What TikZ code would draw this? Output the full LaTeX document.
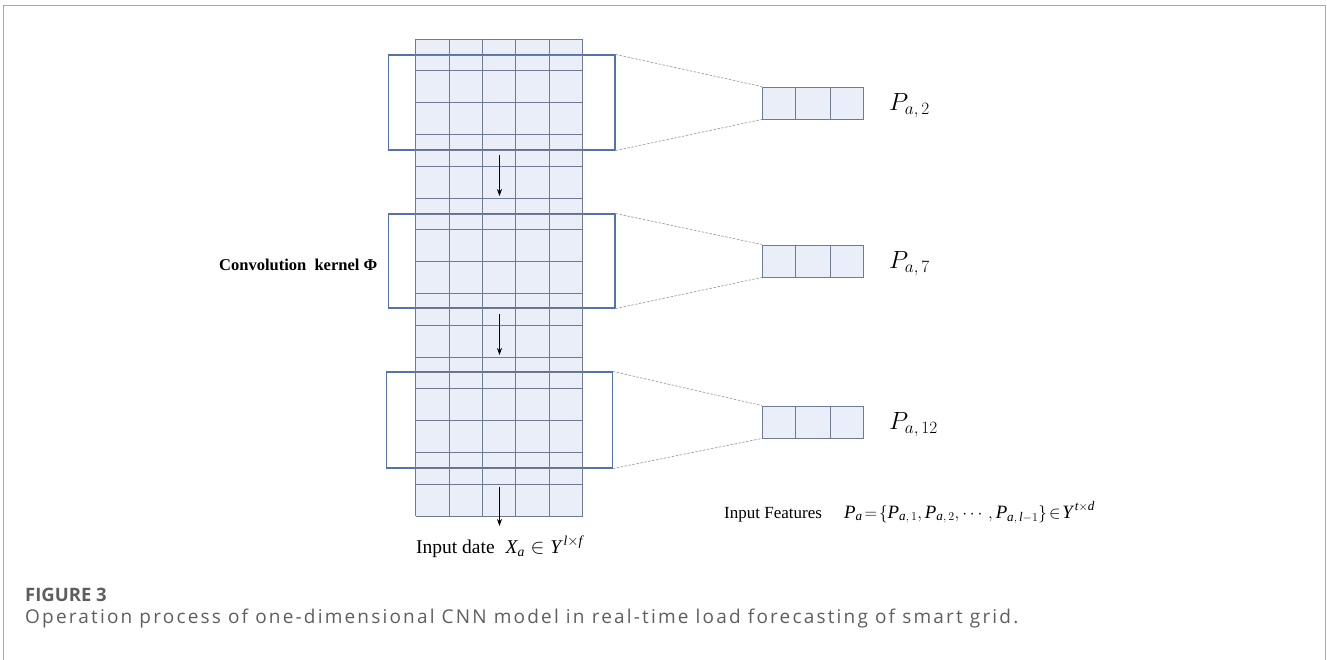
\documentclass[tikz,border=0pt]{standalone}
\usepackage{amsmath}
\usepackage{fontspec}
\setmainfont{Liberation Serif}
\newfontfamily\capfont[LetterSpace=11.5]{Open Sans}
\newfontfamily\capheadfont{Open Sans}
\usetikzlibrary{arrows.meta}
\newcommand\ti[1]{\textit{#1}}
\definecolor{cellfill}{HTML}{E9EEF9}
\definecolor{cellline}{HTML}{6F7B92}
\definecolor{kernelblue}{HTML}{5572AE}
\definecolor{framegray}{HTML}{A8A8A8}
\definecolor{capgray}{HTML}{5E5E5E}
\tikzset{
  cellbox/.style={fill=cellfill, draw=cellline, line width=0.9pt},
  gridline/.style={draw=cellline, line width=0.9pt},
  kernelbox/.style={draw=kernelblue, line width=1.1pt},
  link/.style={draw=gray!75, dashed, dash pattern=on 2.5pt off 1.5pt, line width=0.7pt},
  shift arrow/.style={-{Stealth[length=7pt,width=5pt]}, line width=0.7pt, black},
  plabel/.style={anchor=base west, inner sep=0pt, font=\fontsize{26.5}{28}\selectfont},
  txt/.style={anchor=base west, inner sep=0pt},
}
\begin{document}
\begin{tikzpicture}[x=1pt,y=-1pt]
\useasboundingbox (0,0) rectangle (1327,659);
% open frame
\draw[framegray, line width=1.3pt] (3.3,665) -- (3.3,5.3) -- (1325.3,5.3) -- (1325.3,665);

% input sequence: 5 columns x 15 rows
\fill[cellfill] (415.7,39) rectangle (582.7,516);
% kernel windows
\node[kernelbox, minimum width=226.7pt, minimum height=95pt, inner sep=0pt] (k1) at (501.65,102.5) {};
\node[kernelbox, minimum width=226.7pt, minimum height=94pt, inner sep=0pt] (k2) at (501.65,261) {};
\node[kernelbox, minimum width=225.6pt, minimum height=96pt, inner sep=0pt] (k3) at (499.5,420) {};
% grid lines
\foreach \c in {0,...,5} \draw[gridline] ({415.7+\c*33.4},39) -- ({415.7+\c*33.4},516);
\foreach \r in {0,...,15} \draw[gridline] (415.7,{39+\r*31.8}) -- (582.7,{39+\r*31.8});
\foreach \yy in {55,150,214,308,372,468} \draw[gridline] (415.7,\yy) -- (582.7,\yy);

% shift arrows
\coordinate (a1s) at (499.5,155); \coordinate (a1e) at (499.5,196);
\coordinate (a2s) at (499.5,314); \coordinate (a2e) at (499.5,355);
\coordinate (a3s) at (499.5,487); \coordinate (a3e) at (499.5,526);
\draw[shift arrow] (a1s) -- (a1e);
\draw[shift arrow] (a2s) -- (a2e);
\draw[shift arrow] (a3s) -- (a3e);

% output feature vectors
\foreach \n/\yc in {1/103,2/261,3/422}{
  \node[cellbox, minimum width=101pt, minimum height=32pt, inner sep=0pt] (p\n) at (812.8,\yc) {};
  \draw[gridline] ([xshift=33.7pt]p\n.north west) -- ([xshift=33.7pt]p\n.south west);
  \draw[gridline] ([xshift=-33.7pt]p\n.north east) -- ([xshift=-33.7pt]p\n.south east);
}
% projections
\draw[link] (k1.north east) -- (p1.north west);
\draw[link] (k1.south east) -- (p1.south west);
\draw[link] (k2.north east) -- (p2.north west);
\draw[link] (k2.south east) -- (p2.south west);
\draw[link] (k3.north east) -- (p3.north west);
\draw[link] (k3.south east) -- (p3.south west);

% labels
\node[plabel] (l1) at (889,110.7) {$P_{a,\,2}$};
\node[plabel] (l2) at (889,268.7) {$P_{a,\,7}$};
\node[plabel] (l3) at (889,429.7) {$P_{a,\,12}$};

\node[txt, font=\fontsize{16.5}{20}\selectfont\bfseries] (conv) at (219,270.7) {Convolution\ \ kernel \textup{Φ}};

\node[txt, font=\fontsize{19.5}{23}\selectfont] (inp) at (416,553.3) {Input date\hspace{11pt}$\ti{X}_{\ti{a}}\in\ti{Y}^{\,\ti{l}\times\ti{f}}$};

\node[txt, font=\fontsize{17}{20}\selectfont] (feat) at (724,518) {Input Features};
\node[txt, font=\fontsize{18.8}{22}\selectfont] (form) at (844,518)
  {$\ti{P}_{\ti{a}}\!=\!\{\ti{P}_{\ti{a},\,1},\ti{P}_{\ti{a},\,2},\cdots,\ti{P}_{\ti{a},\,\ti{l}-1}\}\!\in\!\ti{Y}^{\,\ti{t}\times\ti{d}}$};

% caption
\node[txt, font=\capheadfont\fontsize{18.5}{20}\selectfont\bfseries, text=capgray] (fig) at (25,601) {FIGURE 3};
\node[txt, font=\capfont\fontsize{19}{20}\selectfont, text=capgray] (cap) at (25,623)
  {Operation process of one-dimensional CNN model in real-time load forecasting of smart grid.};
\end{tikzpicture}
\end{document}
